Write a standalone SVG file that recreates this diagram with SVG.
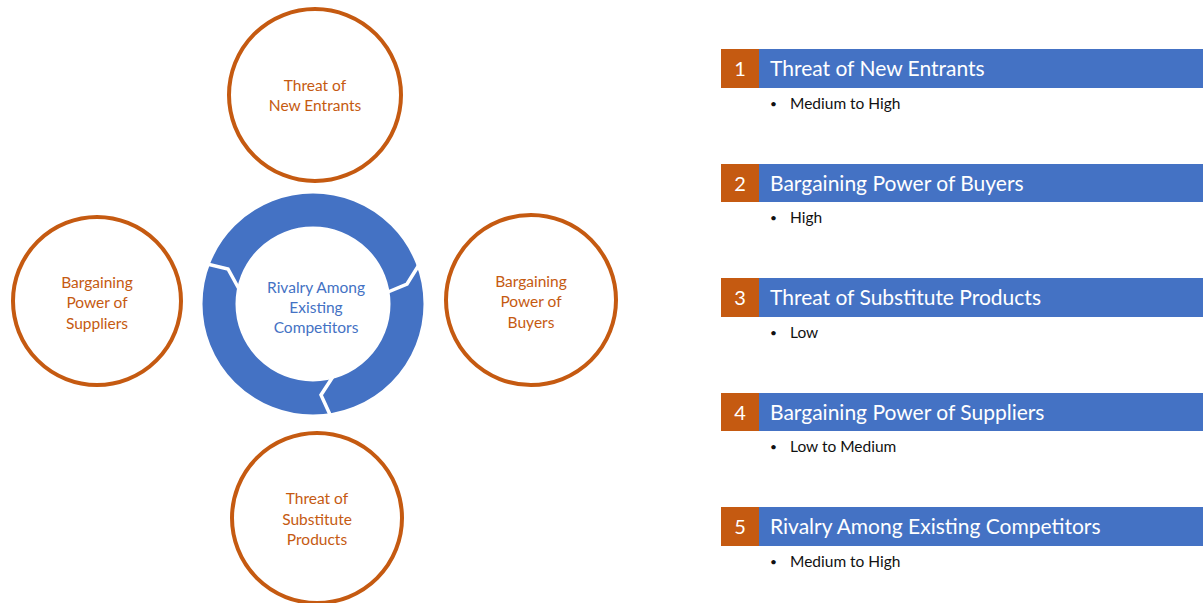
<svg xmlns="http://www.w3.org/2000/svg" width="1203" height="603" viewBox="0 0 1203 603">
<style>
.force circle{fill:#fff;stroke:#C55A11;stroke-width:4}
.ftxt{font-family:Lato,"Liberation Sans",sans-serif;font-size:15.5px;fill:#C55A11;text-anchor:middle}
.ctxt{font-family:Lato,"Liberation Sans",sans-serif;font-size:15.5px;fill:#4472C4;text-anchor:middle}
.bar{fill:#4472C4}
.num{fill:#C55A11}
.ntxt{font-family:Lato,"Liberation Sans",sans-serif;font-size:20px;fill:#fff;text-anchor:middle}
.htxt{font-family:Lato,"Liberation Sans",sans-serif;font-size:21px;fill:#fff}
.btxt{font-family:Lato,"Liberation Sans",sans-serif;font-size:15.5px;fill:#111}
.bul{font-family:Lato,"Liberation Sans",sans-serif;font-size:12px;fill:#111}
.cut{fill:none;stroke:#fff;stroke-width:3.5;stroke-linejoin:miter}
</style>
<rect width="1203" height="603" fill="#fff"/>
<g id="center">
<circle cx="313" cy="304" r="94" fill="none" stroke="#4472C4" stroke-width="33"/>
<polyline class="cut" points="203,263 228,269 239,289"/>
<polyline class="cut" points="388,292 407,284 422,260"/>
<polyline class="cut" points="334,375 321,395 332,419"/>
<text class="ctxt" x="316" y="293">Rivalry Among</text>
<text class="ctxt" x="316" y="313">Existing</text>
<text class="ctxt" x="316" y="333">Competitors</text>
</g>
<g id="new-entrants" class="force">
<circle cx="315" cy="95" r="86"/>
<text class="ftxt" x="315" y="91">Threat of</text>
<text class="ftxt" x="315" y="111">New Entrants</text>
</g>
<g id="suppliers" class="force">
<circle cx="97" cy="301" r="84"/>
<text class="ftxt" x="97" y="288">Bargaining</text>
<text class="ftxt" x="97" y="308">Power of</text>
<text class="ftxt" x="97" y="329">Suppliers</text>
</g>
<g id="buyers" class="force">
<circle cx="531" cy="300" r="85"/>
<text class="ftxt" x="531" y="287">Bargaining</text>
<text class="ftxt" x="531" y="307">Power of</text>
<text class="ftxt" x="531" y="328">Buyers</text>
</g>
<g id="substitutes" class="force">
<circle cx="317" cy="518" r="85"/>
<text class="ftxt" x="317" y="504">Threat of</text>
<text class="ftxt" x="317" y="525">Substitute</text>
<text class="ftxt" x="317" y="545">Products</text>
</g>
<g id="connectors"></g>
<g id="item1">
<rect class="bar" x="721" y="49" width="482" height="39"/>
<rect class="num" x="721" y="49" width="38" height="39"/>
<text class="ntxt" x="740" y="76">1</text>
<text class="htxt" x="770" y="76">Threat of New Entrants</text>
<text class="bul" x="770" y="108">•</text>
<text class="btxt" x="790" y="109">Medium to High</text>
</g>
<g id="item2">
<rect class="bar" x="721" y="164" width="482" height="38"/>
<rect class="num" x="721" y="164" width="38" height="38"/>
<text class="ntxt" x="740" y="191">2</text>
<text class="htxt" x="770" y="191">Bargaining Power of Buyers</text>
<text class="bul" x="770" y="222">•</text>
<text class="btxt" x="790" y="223">High</text>
</g>
<g id="item3">
<rect class="bar" x="721" y="278" width="482" height="39"/>
<rect class="num" x="721" y="278" width="38" height="39"/>
<text class="ntxt" x="740" y="305">3</text>
<text class="htxt" x="770" y="305">Threat of Substitute Products</text>
<text class="bul" x="770" y="337">•</text>
<text class="btxt" x="790" y="338">Low</text>
</g>
<g id="item4">
<rect class="bar" x="721" y="393" width="482" height="38"/>
<rect class="num" x="721" y="393" width="38" height="38"/>
<text class="ntxt" x="740" y="420">4</text>
<text class="htxt" x="770" y="420">Bargaining Power of Suppliers</text>
<text class="bul" x="770" y="451">•</text>
<text class="btxt" x="790" y="452">Low to Medium</text>
</g>
<g id="item5">
<rect class="bar" x="721" y="507" width="482" height="39"/>
<rect class="num" x="721" y="507" width="38" height="39"/>
<text class="ntxt" x="740" y="534">5</text>
<text class="htxt" x="770" y="534">Rivalry Among Existing Competitors</text>
<text class="bul" x="770" y="566">•</text>
<text class="btxt" x="790" y="567">Medium to High</text>
</g>
</svg>
